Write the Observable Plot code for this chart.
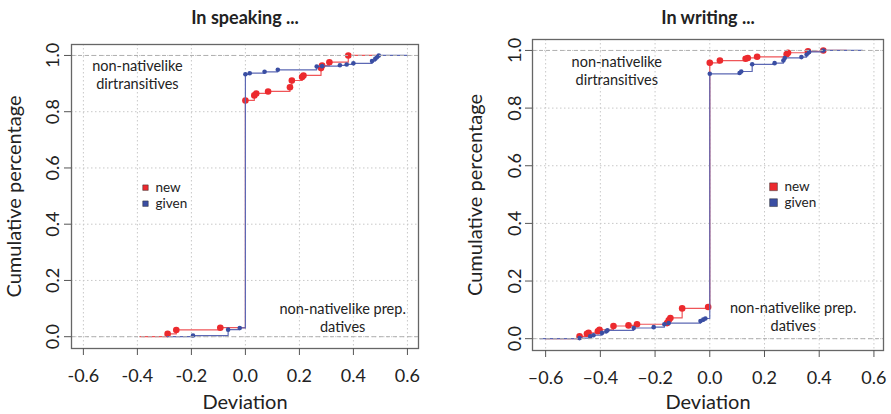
<!DOCTYPE html>
<html><head><meta charset="utf-8">
<script src="https://cdn.jsdelivr.net/npm/d3@7"></script>
<script src="https://cdn.jsdelivr.net/npm/@observablehq/plot@0.6"></script>
<style>
body{margin:0;background:#fff;}
#wrap{display:flex;width:891px;height:414px;overflow:hidden;}
#wrap svg{display:block;}
</style>
</head><body><div id="wrap"></div>
<script>
const xTicks = [-0.6, -0.4, -0.2, 0, 0.2, 0.4, 0.6];
const yTicks = [0, 0.2, 0.4, 0.6, 0.8, 1];
const seriesNames = ["new", "given"];
const seriesColors = ["#ec2a2e", "#3a4ea3"];
const lineColors = ["#ef5558", "#5c68b4"];

// In speaking: ECDF jump locations (deviation) and cumulative percentage
const speakNewX = [-0.288, -0.256, -0.093, 0, 0.033, 0.04, 0.084, 0.165, 0.172, 0.21, 0.215, 0.28, 0.284, 0.311, 0.381];
const speakNewY = [0.010, 0.024, 0.032, 0.840, 0.858, 0.865, 0.872, 0.887, 0.911, 0.923, 0.929, 0.955, 0.964, 0.976, 1.0];
const speakGivenX = [-0.194, -0.064, -0.021, 0, 0.016, 0.071, 0.12, 0.264, 0.284, 0.35, 0.375, 0.40, 0.469, 0.481, 0.487, 0.494];
const speakGivenY = [0.004, 0.025, 0.031, 0.933, 0.937, 0.942, 0.949, 0.961, 0.962, 0.965, 0.968, 0.972, 0.980, 0.988, 0.994, 1.0];
const speakNewExt = [-0.39, 0.49];
const speakGivenExt = [-0.29, 0.60];

// In writing
const writeNewX = [-0.476, -0.449, -0.443, -0.409, -0.403, -0.352, -0.297, -0.266, -0.156, -0.15, -0.144, -0.101, -0.006, 0, 0.037, 0.131, 0.139, 0.173, 0.281, 0.286, 0.359, 0.415];
const writeNewY = [0.008, 0.017, 0.020, 0.026, 0.031, 0.044, 0.046, 0.050, 0.054, 0.064, 0.072, 0.105, 0.110, 0.957, 0.965, 0.971, 0.974, 0.978, 0.987, 0.992, 0.997, 1.0];
const writeGivenX = [-0.476, -0.437, -0.425, -0.394, -0.378, -0.374, -0.278, -0.205, -0.166, -0.15, -0.034, -0.024, -0.016, 0, 0.109, 0.115, 0.155, 0.237, 0.269, 0.274, 0.335, 0.354, 0.363, 0.415];
const writeGivenY = [0.002, 0.008, 0.012, 0.020, 0.026, 0.029, 0.037, 0.040, 0.050, 0.054, 0.061, 0.066, 0.070, 0.919, 0.922, 0.927, 0.952, 0.956, 0.965, 0.974, 0.977, 0.986, 0.995, 1.0];
const writeNewExt = [-0.60, 0.50];
const writeGivenExt = [-0.62, 0.558];

const noteTop = "non-nativelike\ndirtransitives";
const noteBottom = "non-nativelike prep.\ndatives";

const FONT = "Lato, 'Open Sans', sans-serif";

function stepData(xs, ys, ext) {
  return [{x: ext[0], y: 0}, ...xs.map((x, i) => ({x, y: ys[i]})), {x: ext[1], y: 1}];
}
function pts(xs, ys) { return xs.map((x, i) => ({x, y: ys[i]})); }

function panel(cfg) {
  const fmt = d => d.toFixed(1).replace("-", cfg.minus);
  return Plot.plot({
    width: 445, height: 414,
    marginLeft: cfg.ml, marginRight: cfg.mr, marginTop: cfg.mt, marginBottom: cfg.mb,
    style: {fontFamily: FONT, color: "#222", background: "#fff", overflow: "visible"},
    x: {domain: cfg.xDomain},
    y: {domain: cfg.yDomain},
    marks: [
      Plot.gridX(xTicks, {stroke: "#c8c8c8", strokeOpacity: 1, strokeDasharray: "1.5,2.5"}),
      Plot.gridY(yTicks, {stroke: "#c8c8c8", strokeOpacity: 1, strokeDasharray: "1.5,2.5"}),
      Plot.line(stepData(cfg.newX, cfg.newY, cfg.newExt), {x: "x", y: "y", curve: "step-after", stroke: lineColors[0], strokeWidth: 1.2}),
      Plot.dot(pts(cfg.newX, cfg.newY), {x: "x", y: "y", r: 3.3, fill: seriesColors[0]}),
      Plot.line(stepData(cfg.givenX, cfg.givenY, cfg.givenExt), {x: "x", y: "y", curve: "step-after", stroke: lineColors[1], strokeWidth: 1.2}),
      Plot.dot(pts(cfg.givenX, cfg.givenY), {x: "x", y: "y", r: 2.3, fill: seriesColors[1]}),
      Plot.ruleY([0, 1], {stroke: "#b0b0b0", strokeDasharray: "4,3", strokeWidth: 1}),
      Plot.frame({stroke: "#666", strokeWidth: 1.3}),
      Plot.axisX(xTicks, {tickSize: 7, tickPadding: 14, fontSize: 18, tickFormat: fmt, label: null, stroke: "#555"}),
      Plot.axisY(yTicks, {tickSize: 7, tickFormat: () => "", label: null, stroke: "#555"}),
      Plot.text(yTicks, {y: d => d, text: fmt, frameAnchor: "left", textAnchor: "middle", dx: cfg.ytDx, rotate: -90, fontSize: 18, lineAnchor: "middle"}),
      Plot.text(["Cumulative percentage"], {frameAnchor: "left", textAnchor: "middle", dx: -57, rotate: -90, fontSize: 20, lineAnchor: "middle"}),
      Plot.text(["Deviation"], {frameAnchor: "bottom", dy: cfg.xlDy, fontSize: 20, lineAnchor: "bottom"}),
      Plot.text([cfg.title], {frameAnchor: "top", dy: cfg.titleDy, fontSize: 18, fontWeight: "bold", lineAnchor: "bottom"}),
      Plot.text([noteTop], {x: cfg.noteTop[0], y: cfg.noteTop[1], fontSize: 14.5, lineHeight: 1.25, fill: "#222"}),
      Plot.text([noteBottom], {x: cfg.noteBottom[0], y: cfg.noteBottom[1], fontSize: 14.5, lineHeight: 1.25, fill: "#222"}),
      Plot.dot(seriesNames, {x: cfg.legend[0], y: (d, i) => cfg.legend[1] - i * cfg.legend[2], symbol: "square", r: cfg.legendR, fill: (d, i) => seriesColors[i], stroke: "#333", strokeWidth: 0.5}),
      Plot.text(seriesNames, {x: cfg.legend[0], y: (d, i) => cfg.legend[1] - i * cfg.legend[2], text: d => d, dx: cfg.legendDx, textAnchor: "start", fontSize: 13.5})
    ]
  });
}

const left = panel({
  title: "In speaking ...",
  newX: speakNewX, newY: speakNewY, givenX: speakGivenX, givenY: speakGivenY,
  newExt: speakNewExt, givenExt: speakGivenExt,
  ml: 71, mr: 27, mt: 44, mb: 66,
  xDomain: [-0.644, 0.641], yDomain: [-0.042, 1.039],
  minus: "-", ytDx: -18.5, xlDy: 60, titleDy: -21,
  noteTop: [-0.40, 0.932], noteBottom: [0.36, 0.068],
  legend: [-0.37, 0.53, 0.057], legendR: 3.1, legendDx: 10
});
const right = panel({
  title: "In writing ...",
  newX: writeNewX, newY: writeNewY, givenX: writeGivenX, givenY: writeGivenY,
  newExt: writeNewExt, givenExt: writeGivenExt,
  ml: 86, mr: 8, mt: 39, mb: 64,
  xDomain: [-0.648, 0.635], yDomain: [-0.041, 1.038],
  minus: "\u2013", ytDx: -17.5, xlDy: 58, titleDy: -16,
  noteTop: [-0.34, 0.933], noteBottom: [0.305, 0.077],
  legend: [0.233, 0.527, 0.055], legendR: 4.4, legendDx: 11
});
const wrap = document.getElementById("wrap");
wrap.appendChild(left);
const spacer = document.createElement("div"); spacer.style.width = "1px";
wrap.appendChild(spacer);
wrap.appendChild(right);
</script>
</body></html>
